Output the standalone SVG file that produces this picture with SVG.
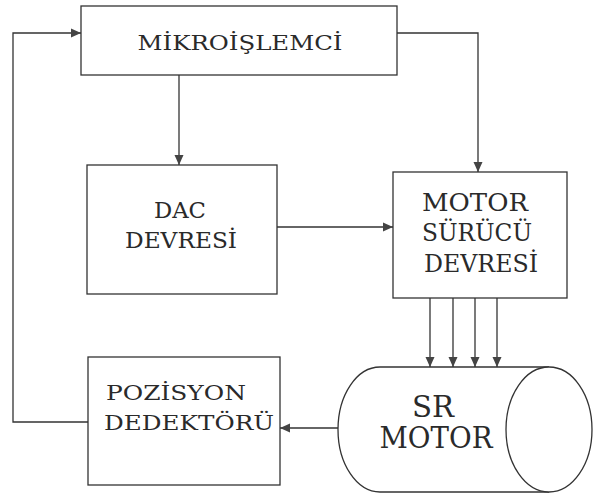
<svg xmlns="http://www.w3.org/2000/svg" width="596" height="495" viewBox="0 0 596 495">
<style>
.box{fill:#fff;stroke:#333;stroke-width:1.3}
.ln{fill:none;stroke:#333;stroke-width:1.3}
.t{font-family:"DejaVu Serif","Liberation Serif",serif;fill:#2a2a2a}
</style>
<defs>
<marker id="ah" markerUnits="userSpaceOnUse" markerWidth="10" markerHeight="10" viewBox="0 0 10 10" refX="10" refY="5" orient="auto">
<path d="M0,0.5 L10,5 L0,9.5 z" fill="#444"/>
</marker>
</defs>
<rect x="0" y="0" width="596" height="495" fill="#fff"/>
<g id="connectors">
<polyline class="ln" points="88,422 13,422 13,33 81,33" marker-end="url(#ah)"/>
<line class="ln" x1="179" y1="75" x2="179" y2="165" marker-end="url(#ah)"/>
<polyline class="ln" points="397,33 478,33 478,172" marker-end="url(#ah)"/>
<line class="ln" x1="277" y1="227" x2="393" y2="227" marker-end="url(#ah)"/>
<line class="ln" x1="430" y1="298" x2="430" y2="367" marker-end="url(#ah)"/>
<line class="ln" x1="453" y1="298" x2="453" y2="367" marker-end="url(#ah)"/>
<line class="ln" x1="475" y1="298" x2="475" y2="367" marker-end="url(#ah)"/>
<line class="ln" x1="497" y1="298" x2="497" y2="367" marker-end="url(#ah)"/>
<line class="ln" x1="338" y1="428" x2="280" y2="428" marker-end="url(#ah)"/>
</g>
<g id="mikroislemci">
<rect class="box" x="81" y="6" width="316" height="69"/>
<text class="t" x="240" y="50" font-size="20" text-anchor="middle" textLength="205" lengthAdjust="spacingAndGlyphs">MİKROİŞLEMCİ</text>
</g>
<g id="dac">
<rect class="box" x="87" y="165" width="190" height="129"/>
<text class="t" x="180" y="218" font-size="22" text-anchor="middle" textLength="52" lengthAdjust="spacingAndGlyphs">DAC</text>
<text class="t" x="181" y="248" font-size="22" text-anchor="middle" textLength="112" lengthAdjust="spacingAndGlyphs">DEVRESİ</text>
</g>
<g id="surucu">
<rect class="box" x="393" y="172" width="174" height="126"/>
<text class="t" x="475" y="211" font-size="24" text-anchor="middle" textLength="106" lengthAdjust="spacingAndGlyphs">MOTOR</text>
<text class="t" x="477" y="241" font-size="24" text-anchor="middle" textLength="110" lengthAdjust="spacingAndGlyphs">SÜRÜCÜ</text>
<text class="t" x="481" y="272" font-size="24" text-anchor="middle" textLength="114" lengthAdjust="spacingAndGlyphs">DEVRESİ</text>
</g>
<g id="pozisyon">
<rect class="box" x="88" y="357" width="192" height="128"/>
<text class="t" x="106" y="400" font-size="21" textLength="140" lengthAdjust="spacingAndGlyphs">POZİSYON</text>
<text class="t" x="104" y="430" font-size="21" textLength="170" lengthAdjust="spacingAndGlyphs">DEDEKTÖRÜ</text>
</g>
<g id="srmotor">
<path class="box" d="M549,367 L380,367 A42,62.5 0 0 0 380,492 L549,492"/>
<ellipse class="box" cx="549" cy="429.5" rx="43" ry="62.5"/>
<text class="t" x="433" y="417" font-size="29" text-anchor="middle" textLength="42" lengthAdjust="spacingAndGlyphs">SR</text>
<text class="t" x="436" y="448" font-size="29" text-anchor="middle" textLength="113" lengthAdjust="spacingAndGlyphs">MOTOR</text>
</g>
</svg>
